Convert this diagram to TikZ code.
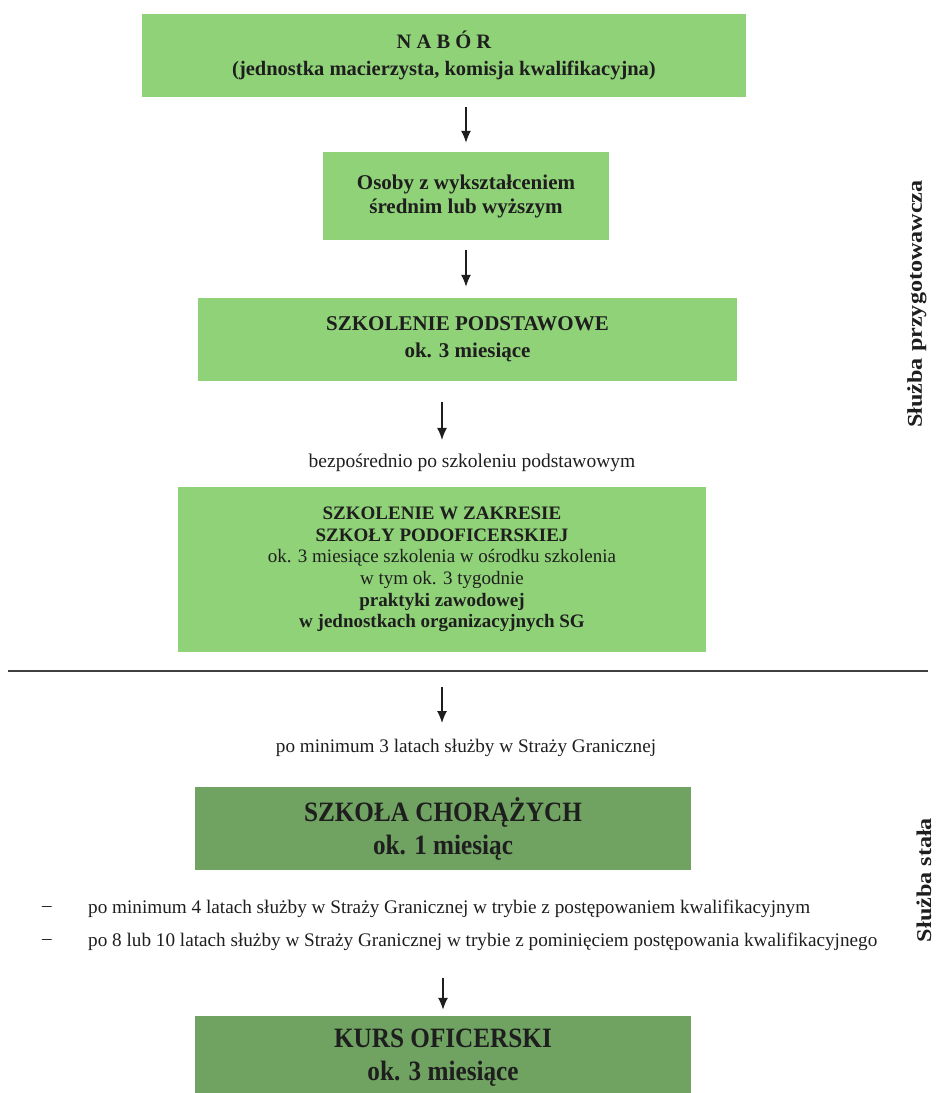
\documentclass[tikz,border=0pt]{standalone}
\usepackage{fontspec}
\setmainfont{Liberation Serif}
\newfontfamily\narrowserif[FakeStretch=0.9]{Liberation Serif}
\newfontfamily\tallserif[FakeStretch=1.15]{Liberation Serif}
\usepackage{tikz}
\usetikzlibrary{shapes, arrows.meta, positioning}
\definecolor{lightgreen}{RGB}{144,210,120}
\definecolor{darkgreen}{RGB}{112,162,98}
\definecolor{ink}{RGB}{30,30,30}
\tikzstyle{lbox} = [rectangle, fill=lightgreen, inner sep=0pt, align=center, text=ink]
\tikzstyle{dbox} = [rectangle, fill=darkgreen, inner sep=0pt, align=center, text=ink, minimum width=496bp, minimum height=83bp, font=\narrowserif\bfseries\fontsize{28bp}{33bp}\selectfont]
\tikzstyle{note} = [inner sep=0pt, text=ink, font=\fontsize{19.2bp}{22bp}\selectfont]
\tikzstyle{side} = [rotate=90, inner sep=0pt, text=ink, font=\tallserif\bfseries\fontsize{21bp}{24bp}\selectfont]
\tikzstyle{flow} = [draw, ink, line width=1.4bp, -{Latex[length=12bp,width=10bp]}]

\begin{document}
\begin{tikzpicture}[x=1bp, y=-1bp]
	\useasboundingbox (0,0) rectangle (939,1093);

	\node [lbox, minimum width=604bp, minimum height=83bp, font=\bfseries\fontsize{20.5bp}{27bp}\selectfont] (nabor) at (444,55.5) {N A B Ó R\\(jednostka macierzysta, komisja kwalifikacyjna)};
	\node [lbox, minimum width=286bp, minimum height=88bp, font=\bfseries\fontsize{21bp}{24bp}\selectfont] (osoby) at (466,196) {Osoby z wykształceniem\\średnim lub wyższym};
	\node [lbox, minimum width=539bp, minimum height=83bp, font=\bfseries\fontsize{21bp}{27bp}\selectfont] (podst) at (467.5,339.5) {SZKOLENIE PODSTAWOWE\\ok. 3 miesiące};
	\node [note, font=\fontsize{19.5bp}{22bp}\selectfont] (bezp) at (472,463) {bezpośrednio po szkoleniu podstawowym};
	\node [lbox, minimum width=528bp, minimum height=165bp, font=\fontsize{19bp}{21.6bp}\selectfont] (podof) at (442,569.5) {\textbf{SZKOLENIE W ZAKRESIE}\\\textbf{SZKOŁY PODOFICERSKIEJ}\\ok. 3 miesiące szkolenia w ośrodku szkolenia\\w tym ok. 3 tygodnie\\\textbf{praktyki zawodowej}\\\textbf{w jednostkach organizacyjnych SG}};

	\draw [ink!85, line width=1.3bp] (8,671) -- (928,671);

	\node [note] (pomin) at (466,748) {po minimum 3 latach służby w Straży Granicznej};
	\node [dbox] (chor) at (443,828.5) {SZKOŁA CHORĄŻYCH\\ok. 1 miesiąc};
	\node [note] (dash1) at (47,909) {--};
	\node [note, anchor=west] (bul1) at (88,909) {po minimum 4 latach służby w Straży Granicznej w trybie z postępowaniem kwalifikacyjnym};
	\node [note] (dash2) at (47,942) {--};
	\node [note, anchor=west] (bul2) at (88,942) {po 8 lub 10 latach służby w Straży Granicznej w trybie z pominięciem postępowania kwalifikacyjnego};
	\node [dbox] (kurs) at (443,1057.5) {KURS OFICERSKI\\ok. 3 miesiące};

	\node [side] (przyg) at (917,304) {Służba przygotowawcza};
	\node [side] (stala) at (924,880) {Służba stała};

	\path [flow, shorten <=10bp, shorten >=9bp] (nabor.south -| osoby.north) -- (osoby.north);
	\path [flow, shorten <=10bp, shorten >=11bp] (osoby.south) -- (osoby.south |- podst.north);
	\path [flow, shorten <=21bp, shorten >=14bp] (podst.south -| podof.north) -- (podof.north |- bezp.north);
	\path [flow, shorten <=35bp, shorten >=16bp] (podof.south) -- (podof.south |- pomin.north);
	\path [flow, shorten <=27bp, shorten >=6bp] (bul2.south -| kurs.north) -- (kurs.north);
\end{tikzpicture}
\end{document}
